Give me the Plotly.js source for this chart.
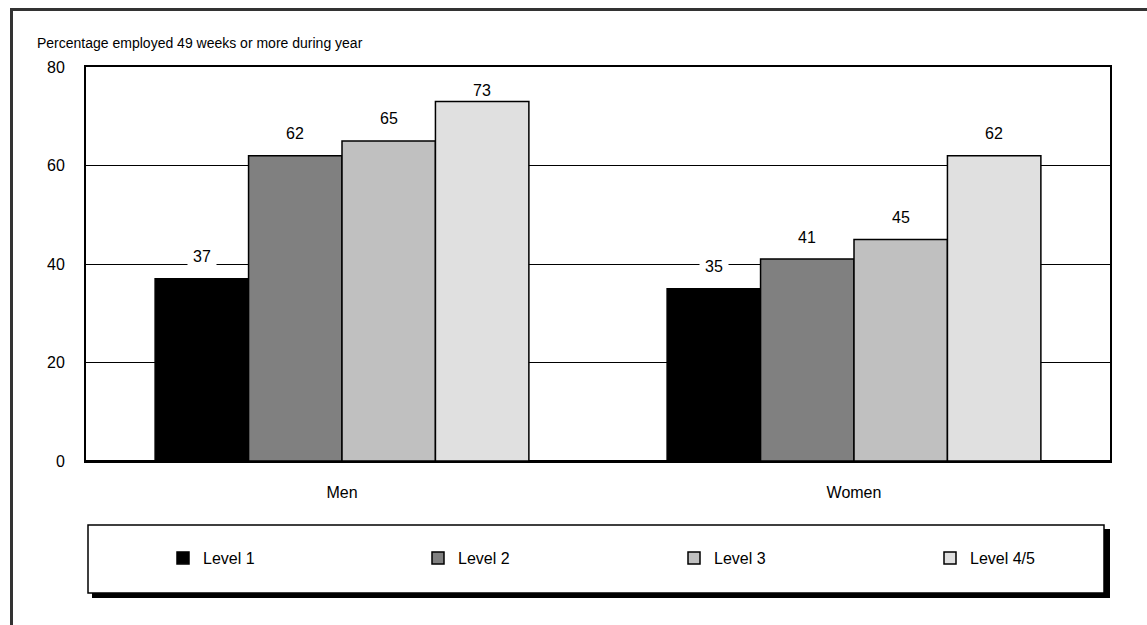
<!DOCTYPE html>
<html><head><meta charset="utf-8">
<script src="https://cdn.plot.ly/plotly-3.0.1.min.js"></script>
<style>html,body{margin:0;padding:0;background:#fff;}#chart{width:1147px;height:625px;}</style>
</head><body><div id="chart"></div>
<script>
const categories = ["Men", "Women"];
const seriesNames = ["Level 1", "Level 2", "Level 3", "Level 4/5"];
const level1 = [37, 35];
const level2 = [62, 41];
const level3 = [65, 45];
const level45 = [73, 62];
const yTicks = [0, 20, 40, 60, 80];
const titleText = "Percentage employed 49 weeks or more during year";

const seriesValues = [level1, level2, level3, level45];
const colors = ["#000000", "#808080", "#c0c0c0", "#e0e0e0"];
const FONT = "'Liberation Sans Narrow', 'Arial Narrow', 'Liberation Sans', Arial, sans-serif";

const W = 1147, H = 625;
const L = 86, R = 37, T = 67, B = 164;
const pw = W - L - R, ph = H - T - B;
const px = v => (v - L) / pw;
const py = v => (H - B - v) / ph;
const unitPx = ph / 80;

const bargap = 0.27;
const legendIds = ["legend", "legend2", "legend3", "legend4"];
const legendLeft = [163, 418, 674, 930];

const traces = seriesValues.map((vals, i) => ({
  type: "bar", name: seriesNames[i], x: categories, y: vals,
  marker: {color: colors[i], line: {color: "#000", width: 1.5}},
  legend: legendIds[i], hoverinfo: "skip"
}));

const barW = (1 - bargap) / seriesValues.length;
const labelOffset = 22 / unitPx;          // label centre sits ~22px above bar top
const labelMax = 80 - 23 / unitPx;        // but never closer than 23px to the frame top
const halfBox = 14 / unitPx;
const annotations = [];
seriesValues.forEach((vals, i) => {
  vals.forEach((v, c) => {
    const yc = Math.min(v + labelOffset, labelMax);
    const crossesGrid = yTicks.some(t => t > 0 && t < 80 && Math.abs(t - yc) < halfBox);
    annotations.push({
      x: c + (i - (seriesValues.length - 1) / 2) * barW, y: yc,
      xref: "x", yref: "y",
      text: String(v), showarrow: false, yanchor: "middle",
      bgcolor: crossesGrid ? "#fff" : "rgba(0,0,0,0)", borderpad: 5,
      font: {family: FONT, size: 16, color: "#000"}
    });
  });
});

const shapes = [
  {type: "line", xref: "paper", yref: "paper", x0: px(11.5), x1: px(11.5), y0: py(640), y1: py(9), line: {color: "#333", width: 3}},
  {type: "line", xref: "paper", yref: "paper", x0: px(10), x1: px(1160), y0: py(9.5), y1: py(9.5), line: {color: "#333", width: 3}},
  {type: "rect", xref: "paper", yref: "paper", x0: px(92), x1: px(1110), y0: py(529), y1: py(598), fillcolor: "#000", line: {width: 0}},
  {type: "rect", xref: "paper", yref: "paper", x0: px(88), x1: px(1104), y0: py(525), y1: py(593), fillcolor: "#fff", line: {color: "#000", width: 1.5}}
];

const layout = {
  width: W, height: H,
  margin: {l: L, r: R, t: T, b: B, pad: 0},
  paper_bgcolor: "#fff", plot_bgcolor: "#fff",
  font: {family: FONT, size: 16, color: "#000"},
  title: {text: titleText, x: 37 / W, xanchor: "left", xref: "container", y: 1 - 43 / H, yanchor: "middle", yref: "container",
          font: {family: FONT, size: 14, color: "#000"}},
  barmode: "group", bargap: bargap, bargroupgap: 0,
  xaxis: {type: "category", showgrid: false, showline: true, linecolor: "#000", linewidth: 2, mirror: true,
          ticks: "", ticklabelstandoff: 16, tickfont: {family: FONT, size: 16, color: "#000"}, fixedrange: true},
  yaxis: {range: [0, 80], tickvals: yTicks, ticktext: yTicks.map(String), showgrid: true, gridcolor: "#000", gridwidth: 1,
          showline: true, linecolor: "#000", linewidth: 2, mirror: true, zeroline: true, zerolinecolor: "#000", zerolinewidth: 3,
          ticks: "", ticklabelstandoff: 16, tickfont: {family: FONT, size: 16, color: "#000"}, fixedrange: true},
  showlegend: true,
  annotations: annotations,
  shapes: shapes
};
legendIds.forEach((id, i) => {
  layout[id] = {orientation: "h", x: px(legendLeft[i]), xanchor: "left", y: py(558), yanchor: "middle",
                bgcolor: "rgba(0,0,0,0)", borderwidth: 0, font: {family: FONT, size: 16, color: "#000"}};
});

Plotly.newPlot("chart", traces, layout, {staticPlot: true, displayModeBar: false});
</script>
</body></html>
